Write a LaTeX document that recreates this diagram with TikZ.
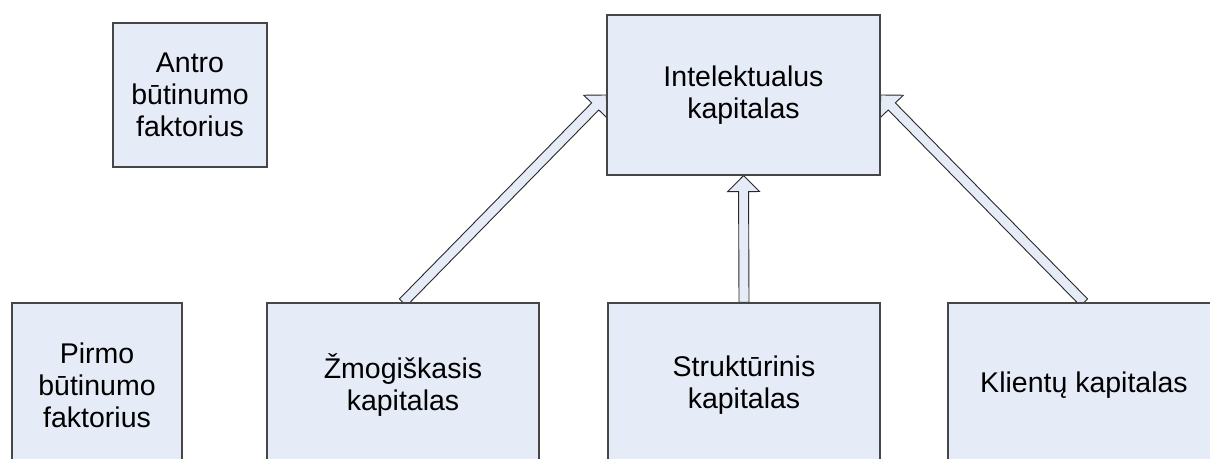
\documentclass[tikz,border=0pt]{standalone}
\usepackage{fontspec}
\setmainfont{Liberation Sans}
\usetikzlibrary{calc,backgrounds}
\definecolor{boxfill}{RGB}{230,236,247}
\definecolor{boxline}{RGB}{70,70,70}
\definecolor{arrline}{RGB}{40,40,40}
\tikzset{
  box/.style={draw=boxline, line width=1.2pt, fill=boxfill, inner sep=0pt,
    align=center, font=\fontsize{28.5}{32}\selectfont},
  barrow/.style={draw=arrline, line width=0.9pt, fill=boxfill, line join=miter}
}
\newcommand{\blockarr}[2]{%
  \coordinate (ba-h) at ($(#2)!16pt!(#1)$);
  \draw[barrow] ($(#1)!5pt!90:(#2)$) -- ($(ba-h)!5pt!-90:(#1)$)
    -- ($(ba-h)!16pt!-90:(#1)$) -- (#2) -- ($(ba-h)!16pt!90:(#1)$)
    -- ($(ba-h)!5pt!90:(#1)$) -- ($(#1)!5pt!-90:(#2)$) -- cycle;
}
\begin{document}
\begin{tikzpicture}[x=1pt,y=-1pt]
\useasboundingbox (0,0) rectangle (1210,458);
\clip (0,0) rectangle (1210,458);
% top row
\node[box, minimum width=273pt, minimum height=160pt] (I) at (743.5,95) {Intelektualus\\kapitalas};
\node[box, minimum width=154pt, minimum height=144pt] (A) at (190,95) {Antro\\būtinumo\\faktorius};
% bottom row
\node[box, minimum width=170pt, minimum height=164pt] (P) at (97,385) {Pirmo\\būtinumo\\faktorius};
\node[box, minimum width=272pt, minimum height=164pt] (Z) at (403,385) {Žmogiškasis\\kapitalas};
\node[box, minimum width=272pt, minimum height=164pt] (S) at (744,385) {Struktūrinis\\kapitalas};
\node[box, minimum width=272pt, minimum height=164pt] (K) at (1084,385) {Klientų kapitalas};
\begin{scope}[on background layer]
  \fill[white] (0,0) rectangle (1210,458);
  \blockarr{Z.north}{I.west}
  \blockarr{S.north}{I.south}
  \blockarr{K.north}{I.east}
\end{scope}
\end{tikzpicture}
\end{document}
